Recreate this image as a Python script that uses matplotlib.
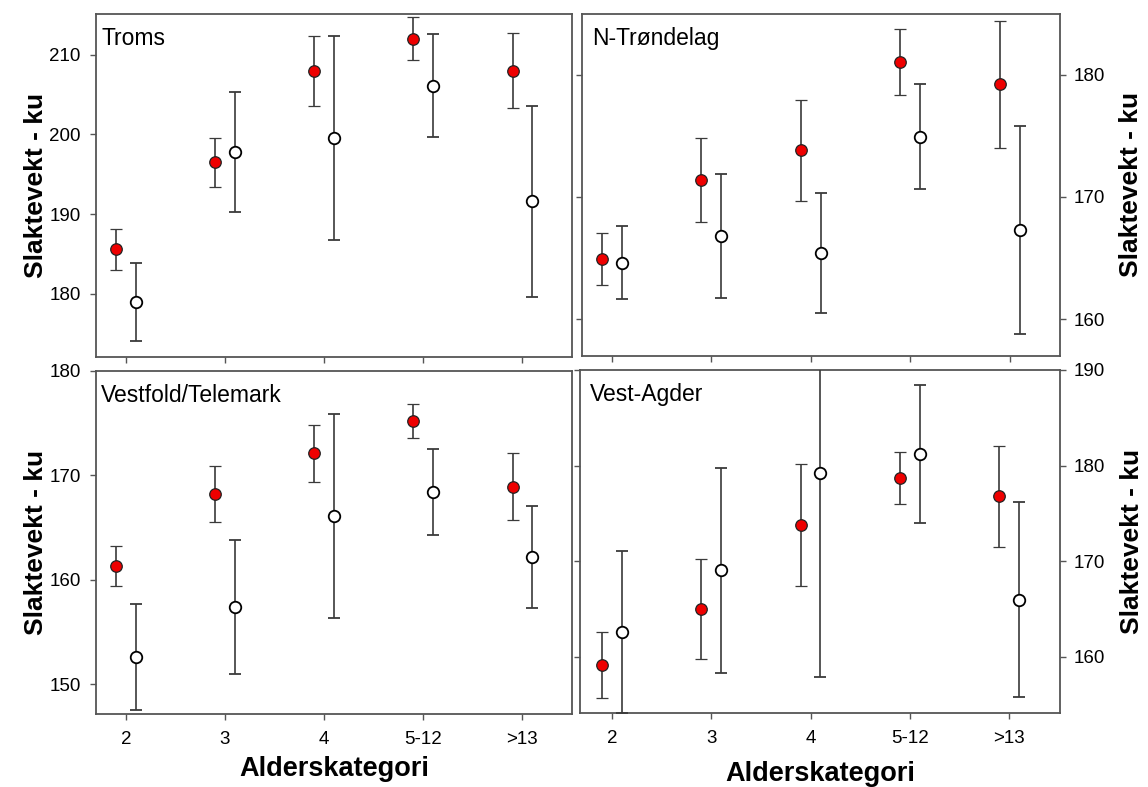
import numpy as np
import matplotlib
matplotlib.use('Agg')
import matplotlib.pyplot as plt

plt.rcParams['font.family'] = ['Liberation Sans', 'DejaVu Sans']

# age categories on the x axis
categories = ['2', '3', '4', '5-12', '>13']

# slaughter weight per region, filled (red) and open (white) series, +- error
troms_filled = [185.6, 196.5, 208.0, 212.0, 208.0]
troms_filled_err = [2.55, 3.1, 4.4, 2.7, 4.7]
troms_open = [179.0, 197.8, 199.6, 206.1, 191.6]
troms_open_err = [4.9, 7.5, 12.8, 6.45, 12.0]

ntr_filled = [164.9, 171.4, 173.8, 181.0, 179.2]
ntr_filled_err = [2.15, 3.45, 4.15, 2.7, 5.2]
ntr_open = [164.6, 166.8, 165.4, 174.9, 167.3]
ntr_open_err = [3.0, 5.1, 4.9, 4.3, 8.5]

vt_filled = [161.3, 168.2, 172.1, 175.2, 168.9]
vt_filled_err = [1.9, 2.65, 2.7, 1.6, 3.2]
vt_open = [152.6, 157.4, 166.1, 168.4, 162.2]
vt_open_err = [5.05, 6.45, 9.8, 4.1, 4.9]

va_filled = [159.2, 165.0, 173.8, 178.7, 176.8]
va_filled_err = [3.45, 5.2, 6.4, 2.7, 5.3]
va_open = [162.6, 169.05, 179.2, 181.2, 166.0]
va_open_err = [8.5, 10.75, 21.3, 7.2, 10.2]

W, H = 1148, 787
fig = plt.figure(figsize=(W / 100, H / 100), dpi=100)


def make_ax(x0, x1, y0, y1):
    # pixel box -> figure fraction
    return fig.add_axes([x0 / W, 1 - y1 / H, (x1 - x0) / W, (y1 - y0) / H])


frame_col = '#555555'
bar_col = '#3a3a3a'


def panel(ax, name, filled, filled_err, opn, opn_err, ylim, yticks, side, bottom_row, xlim=(-0.3, 4.5)):
    x = np.arange(len(categories))
    ax.errorbar(x - 0.1, filled, yerr=filled_err, fmt='o', color=bar_col, ecolor=bar_col,
                elinewidth=1.2, capsize=4, capthick=1.2, markersize=8.3,
                markerfacecolor='#ee0000', markeredgecolor='#222222', markeredgewidth=0.9, zorder=3)
    ax.errorbar(x + 0.1, opn, yerr=opn_err, fmt='o', color=bar_col, ecolor=bar_col,
                elinewidth=1.2, capsize=4, capthick=1.2, markersize=8.3,
                markerfacecolor='white', markeredgecolor='black', markeredgewidth=1.3, zorder=3)
    ax.set_xlim(*xlim)
    ax.set_ylim(*ylim)
    ax.set_yticks(yticks)
    ax.set_xticks(x)
    for s in ax.spines.values():
        s.set_color(frame_col)
        s.set_linewidth(1.3)
    ax.tick_params(direction='out', length=4, width=1, color=frame_col, labelsize=13.5)

    if side == 'left':
        ax.text(0.011, 0.962, name, transform=ax.transAxes, ha='left', va='top', fontsize=16.5)
        ax.tick_params(axis='y', pad=7)
        ax.set_ylabel('Slaktevekt - ku', fontsize=19, fontweight='bold')
        ax.yaxis.set_label_coords(-0.10, 0.5)
    else:
        ax.text(0.021, 0.962, name, transform=ax.transAxes, ha='left', va='top', fontsize=16.5)
        ax.yaxis.set_ticks_position('both')
        ax.tick_params(axis='y', labelleft=False, labelright=True, pad=6)
        ax.yaxis.set_label_position('right')
        ax.set_ylabel('Slaktevekt - ku', fontsize=19, fontweight='bold', rotation=90)
        ax.yaxis.set_label_coords(1.125, 0.5)

    if bottom_row:
        ax.set_xticklabels(categories)
        ax.tick_params(axis='x', pad=8)
        ax.set_xlabel('Alderskategori', fontsize=19.5, fontweight='bold')
    else:
        ax.set_xticklabels([])


ax1 = make_ax(96, 572, 14, 357)
panel(ax1, 'Troms', troms_filled, troms_filled_err, troms_open, troms_open_err,
      (172.1, 215.1), [180, 190, 200, 210], 'left', False)

ax2 = make_ax(582, 1059.5, 13.5, 355.7)
panel(ax2, 'N-Trøndelag', ntr_filled, ntr_filled_err, ntr_open, ntr_open_err,
      (157.0, 185.0), [160, 170, 180], 'right', False)

ax3 = make_ax(96, 572, 371, 714.3)
panel(ax3, 'Vestfold/Telemark', vt_filled, vt_filled_err, vt_open, vt_open_err,
      (147.1, 180.0), [150, 160, 170, 180], 'left', True)
ax3.xaxis.set_label_coords(0.5, -0.122)

ax4 = make_ax(580, 1060, 370, 713.3)
panel(ax4, 'Vest-Agder', va_filled, va_filled_err, va_open, va_open_err,
      (154.1, 190.0), [160, 170, 180, 190], 'right', True, xlim=(-0.32, 4.51))
ax4.xaxis.set_label_coords(0.5, -0.138)

fig.savefig('out.png', dpi=100)
